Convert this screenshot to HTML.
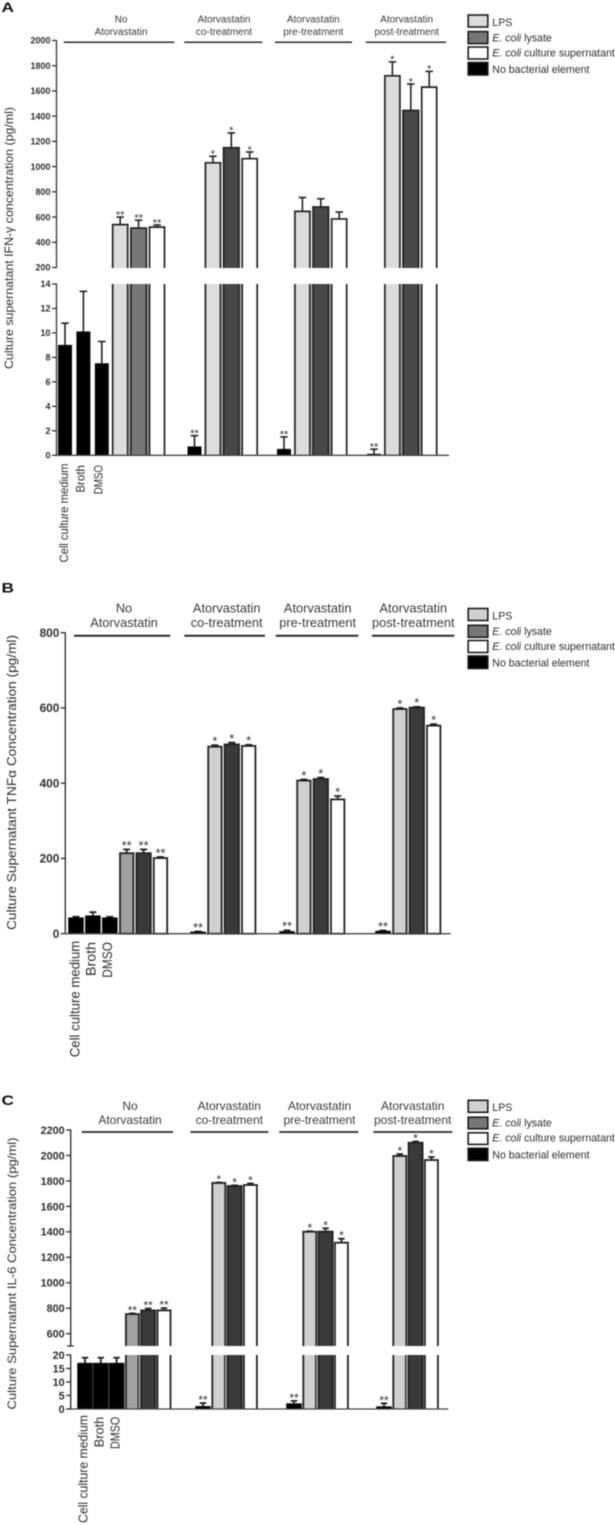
<!DOCTYPE html>
<html lang="en">
<head>
<meta charset="utf-8">
<title>Cytokine concentrations with atorvastatin treatment</title>
<style>
html,body{margin:0;padding:0;background:#fff;width:615px;height:1525px;overflow:hidden}
#figure{display:block;filter:blur(0.45px)}
text{font-family:"Liberation Sans",sans-serif;fill:#2e2e2e}
</style>
</head>
<body>
<svg id="figure" xmlns="http://www.w3.org/2000/svg" width="615" height="1525" viewBox="0 0 615 1525"></svg>
<script>
// Shared labels
const groupLabels = [['No', 'Atorvastatin'], ['Atorvastatin', 'co-treatment'], ['Atorvastatin', 'pre-treatment'], ['Atorvastatin', 'post-treatment']];
const controlCategories = ['Cell culture medium', 'Broth', 'DMSO'];
const seriesKeys = ['lps', 'lysate', 'supernatant', 'none'];

// Panel A: IFN-gamma
const aUpperTicks = [2000, 1800, 1600, 1400, 1200, 1000, 800, 600, 400, 200];
const aLowerTicks = [14, 12, 10, 8, 6, 4, 2, 0];
const aControlValues = [9.0, 10.1, 7.5];
const aControlErrors = [1.8, 3.3, 1.8];
const aNoneValues = [0.7, 0.5, 0.1];
const aNoneErrors = [0.9, 1.0, 0.4];
const aNoneStars = ['**', '**', '**'];
const aLpsValues = [540, 1030, 645, 1720];
const aLpsErrors = [60, 52, 110, 110];
const aLpsStars = ['**', '*', '', '*'];
const aLysateValues = [512, 1150, 680, 1445];
const aLysateErrors = [63, 117, 65, 210];
const aLysateStars = ['**', '*', '', '*'];
const aSupValues = [520, 1063, 585, 1630];
const aSupErrors = [17, 53, 55, 125];
const aSupStars = ['**', '*', '', '*'];

// Panel B: TNF-alpha
const bTicks = [800, 600, 400, 200, 0];
const bControlValues = [42.5, 47.8, 42.5];
const bControlErrors = [2.5, 9.5, 2.5];
const bNoneValues = [5, 6, 7];
const bNoneErrors = [1, 3, 1.5];
const bNoneStars = ['**', '**', '**'];
const bLpsValues = [214, 497, 407, 597];
const bLpsErrors = [10, 4, 3, 3];
const bLpsStars = ['**', '*', '*', '*'];
const bLysateValues = [214, 503, 411, 601];
const bLysateErrors = [10, 5, 4, 2];
const bLysateStars = ['**', '*', '*', '*'];
const bSupValues = [201, 499, 357, 553];
const bSupErrors = [3, 3, 9, 4];
const bSupStars = ['**', '*', '*', '*'];

// Panel C: IL-6
const cUpperTicks = [2200, 2000, 1800, 1600, 1400, 1200, 1000, 800, 600];
const cLowerTicks = [20, 15, 10, 5, 0];
const cControlValues = [17, 17, 17];
const cControlErrors = [2, 2, 2];
const cNoneValues = [1, 2, 0.9];
const cNoneErrors = [1.2, 1, 1.2];
const cNoneStars = ['**', '**', '**'];
const cLpsValues = [754, 1784, 1401, 1996];
const cLpsErrors = [6, 4, 4, 15];
const cLpsStars = ['**', '*', '*', '*'];
const cLysateValues = [783, 1760, 1402, 2100];
const cLysateErrors = [15, 5, 26, 10];
const cLysateStars = ['**', '*', '*', '*'];
const cSupValues = [783, 1768, 1315, 1964];
const cSupErrors = [18, 12, 31, 24];
const cSupStars = ['**', '*', '*', '*'];

const SVG_NS = 'http://www.w3.org/2000/svg';
const root = document.getElementById('figure');
const INK = '#222';

function make(parent, tag, attrs, content) {
  const el = document.createElementNS(SVG_NS, tag);
  for (const k in attrs) el.setAttribute(k, attrs[k]);
  if (content !== undefined) el.textContent = content;
  parent.appendChild(el);
  return el;
}
function line(parent, x1, y1, x2, y2, w, color) {
  return make(parent, 'line', {x1: x1, y1: y1, x2: x2, y2: y2, stroke: color || INK, 'stroke-width': w});
}
function linear(d0, d1, r0, r1) {
  return function (v) { return r0 + (v - d0) * (r1 - r0) / (d1 - d0); };
}

function buildPanel(cfg, d) {
  const g = make(root, 'g', {});
  
  

  const letter = make(g, 'text', {x: cfg.letterX, y: cfg.letterY, 'font-size': 14, 'font-weight': 'bold', textLength: 12.5, lengthAdjust: 'spacingAndGlyphs', style: 'fill:#111'}, cfg.id.toUpperCase());
  
  

  const upper = linear(cfg.upper.d0, cfg.upper.d1, cfg.upper.r0, cfg.upper.r1);
  const lower = cfg.lower ? linear(cfg.lower.d0, cfg.lower.d1, cfg.lower.r0, cfg.lower.r1) : null;
  const floorY = lower ? lower(0) : upper(0);
  const breakTop = cfg.lower ? cfg.upper.end : null;
  const breakBottom = cfg.lower ? cfg.lower.r0 : null;

  const yOf = function (v, useLower) { return (useLower && lower) ? lower(v) : upper(v); };
  const colors = cfg.colors;

  function drawBar(name, cx, w, value, err, star, fill, useLower, kind) {
    const bar = make(g, 'g', {});
    
    
    const x0 = cx - w / 2;
    const top = yOf(value, useLower);
    const errTop = yOf(value + err, useLower);
    line(bar, cx, errTop, cx, top, cfg.stem);
    line(bar, cx - cfg.cap / 2, errTop, cx + cfg.cap / 2, errTop, cfg.stem);
    const stroke = cfg.border;
    if (useLower || !lower) {
      make(bar, 'rect', {x: x0, y: top, width: w, height: Math.max(floorY - top, 0), fill: fill, stroke: fill === '#000' ? '#111' : INK, 'stroke-width': fill === '#000' ? 0.6 : stroke});
    } else {
      if (kind === 'lysate') {
        make(bar, 'rect', {x: x0 - 3, y: breakBottom, width: w + 6, height: floorY - breakBottom, fill: '#b5b5b5'});
        line(bar, x0 - 3, breakBottom, x0 - 3, floorY, 1.2);
        line(bar, x0 + w + 3, breakBottom, x0 + w + 3, floorY, 1.2);
      }
      make(bar, 'rect', {x: x0, y: top, width: w, height: breakTop - top, fill: fill});
      make(bar, 'rect', {x: x0, y: breakBottom, width: w, height: floorY - breakBottom, fill: fill});
      line(bar, x0 - stroke / 2, top, x0 + w + stroke / 2, top, stroke);
      line(bar, x0, top, x0, breakTop, stroke);
      line(bar, x0 + w, top, x0 + w, breakTop, stroke);
      line(bar, x0, breakBottom, x0, floorY, stroke);
      line(bar, x0 + w, breakBottom, x0 + w, floorY, stroke);
    }
    if (star) {
      const s = make(bar, 'text', {x: cx, y: errTop + cfg.starDy, 'font-size': cfg.starSize, 'text-anchor': 'middle', style: 'fill:#333'}, star);
      
      
    }
  }

  // Treatment-group bars
  const groupCount = groupLabels.length;
  for (let i = 0; i < groupCount; i++) {
    const gx = cfg.groupX[i];
    const offset = i === 0 ? 3 : 1;
    const lpsX = gx + offset * cfg.pitch;
    drawBar('lps-group-' + i, lpsX, cfg.widths.lps, d.lps[i], d.lpsErr[i], d.lpsStars[i], i === 0 ? colors.lpsFirst : colors.lps, false, 'lps');
    drawBar('lysate-group-' + i, lpsX + cfg.pitch, cfg.widths.lysate, d.lysate[i], d.lysateErr[i], d.lysateStars[i], i === 0 ? colors.lysateFirst : colors.lysate, false, 'lysate');
    drawBar('supernatant-group-' + i, lpsX + 2 * cfg.pitch, cfg.widths.sup, d.sup[i], d.supErr[i], d.supStars[i], '#fff', false, 'sup');
  }

  // No-bacterial-element bars
  for (let i = 0; i < controlCategories.length; i++) {
    const cx = cfg.groupX[0] + i * cfg.pitch;
    drawBar('control-' + i, cx, cfg.widths.none, d.control[i], d.controlErr[i], '', '#000', true, 'none');
  }
  for (let i = 0; i < d.none.length; i++) {
    drawBar('no-element-group-' + (i + 1), cfg.groupX[i + 1], cfg.widths.none, d.none[i], d.noneErr[i], d.noneStars[i], '#000', true, 'none');
  }

  // Axes
  const axis = make(g, 'g', {});
  
  
  const ax = cfg.axisX;
  if (lower) {
    line(axis, ax, upper(d.upperTicks[0]) - 0.6, ax, cfg.upper.end, cfg.axisW, '#333');
    line(axis, ax, cfg.lower.r0 - 0.6, ax, floorY, cfg.axisW, '#333');
    if (cfg.upper.cap) line(axis, ax - 3.5, cfg.upper.end, ax + 3, cfg.upper.end, cfg.axisW, '#333');
  } else {
    line(axis, ax, upper(d.upperTicks[0]) - 0.6, ax, floorY, cfg.axisW, '#333');
  }
  function drawTick(v, scale) {
    const y = scale(v);
    const t = line(axis, ax - cfg.tickLen, y, ax, y, cfg.axisW, '#333');
    
    
    const l = make(axis, 'text', {x: ax - cfg.tickLen - 1.5, y: y + cfg.tickSize * 0.36, 'font-size': cfg.tickSize, 'font-weight': 'bold', 'text-anchor': 'end'}, String(v));
    
    
  }
  d.upperTicks.forEach(function (v) { drawTick(v, upper); });
  if (lower) d.lowerTicks.forEach(function (v) { drawTick(v, lower); });

  const base = line(g, ax, floorY, cfg.baseEnd, floorY, 1.3, '#444');
  
  

  // Y title
  const title = make(g, 'text', {transform: 'translate(' + cfg.title.x + ' ' + cfg.title.y + ') rotate(-90)', 'font-size': cfg.title.size, 'text-anchor': 'middle', textLength: cfg.title.len, lengthAdjust: 'spacingAndGlyphs'}, d.title);
  
  

  // Category labels
  controlCategories.forEach(function (c, i) {
    const cat = make(g, 'text', {transform: 'translate(' + cfg.cats.x[i] + ' ' + cfg.cats.y[i] + ') rotate(-90)', 'font-size': cfg.cats.size, 'text-anchor': 'end', textLength: cfg.cats.len[i], lengthAdjust: 'spacingAndGlyphs'}, c);
    
    
  });

  // Group headers
  groupLabels.forEach(function (lines, i) {
    const h = make(g, 'g', {});
    
    
    make(h, 'text', {x: cfg.head.cx[i], y: cfg.head.y1, 'font-size': cfg.head.size, 'text-anchor': 'middle', style: 'fill:#3a3a3a'}, lines[0]);
    make(h, 'text', {x: cfg.head.cx[i], y: cfg.head.y2, 'font-size': cfg.head.size, 'text-anchor': 'middle', style: 'fill:#3a3a3a'}, lines[1]);
    line(h, cfg.head.rx0[i], cfg.head.ry, cfg.head.rx1[i], cfg.head.ry, cfg.head.rw, '#2a2a2a');
  });

  // Legend
  const leg = make(g, 'g', {});
  
  
  seriesKeys.forEach(function (key, i) {
    const e = make(leg, 'g', {});
    
    
    const fill = [colors.lps, '#777', '#fff', '#000'][i];
    make(e, 'rect', {x: 468.2, y: cfg.legend.boxY[i], width: 19.6, height: cfg.legend.boxH[i], fill: fill, stroke: '#1c1c1c', 'stroke-width': 1.6});
    const t = make(e, 'text', {x: 492.3, y: cfg.legend.textY[i], 'font-size': 10.6});
    if (i === 0) t.textContent = 'LPS';
    if (i === 3) t.textContent = 'No bacterial element';
    if (i === 1 || i === 2) {
      make(t, 'tspan', {'font-style': 'italic'}, 'E. coli');
      make(t, 'tspan', {}, i === 1 ? ' lysate' : ' culture supernatant');
    }
  });
}

buildPanel({
  id: 'a', letterX: 1.5, letterY: 12,
  upper: {d0: 2000, d1: 200, r0: 40.5, r1: 267.5, end: 268},
  lower: {d0: 14, d1: 0, r0: 284, r1: 455.3},
  axisX: 56.5, axisW: 1.3, tickLen: 4.5, tickSize: 9, baseEnd: 449,
  groupX: [65, 194.5, 284, 374], pitch: 18.4,
  widths: {none: 13.4, lps: 15, lysate: 15.5, sup: 15},
  colors: {lps: '#dcdcdc', lpsFirst: '#dcdcdc', lysate: '#484848', lysateFirst: '#777'},
  border: 1.7, stem: 1.6, cap: 7.5, starDy: 1.3, starSize: 11,
  title: {x: 13, y: 238, size: 12, len: 262},
  cats: {x: [68, 84.7, 102.3], y: [463.5, 465, 465], size: 11.5, len: [99, 27.7, 29.3]},
  head: {cx: [121, 224, 313.3, 406.7], y1: 22.7, y2: 35, size: 10, rx0: [63.7, 184.3, 275, 365.7], rx1: [174.3, 262.3, 352, 446], ry: 42.3, rw: 1.5},
  legend: {boxY: [15, 31.6, 47, 62.5], boxH: [12, 12, 12, 12.5], textY: [26, 41.5, 56.7, 73]}
}, {
  title: 'Culture supernatant IFN-\u03B3 concentration (pg/ml)',
  upperTicks: aUpperTicks, lowerTicks: aLowerTicks,
  control: aControlValues, controlErr: aControlErrors,
  none: aNoneValues, noneErr: aNoneErrors, noneStars: aNoneStars,
  lps: aLpsValues, lpsErr: aLpsErrors, lpsStars: aLpsStars,
  lysate: aLysateValues, lysateErr: aLysateErrors, lysateStars: aLysateStars,
  sup: aSupValues, supErr: aSupErrors, supStars: aSupStars
});

buildPanel({
  id: 'b', letterX: 1.5, letterY: 592.5,
  upper: {d0: 800, d1: 0, r0: 632.7, r1: 933.7},
  lower: null,
  axisX: 65.3, axisW: 1.4, tickLen: 4.5, tickSize: 11.8, baseEnd: 450.7,
  groupX: [76, 198, 287, 383], pitch: 16.9,
  widths: {none: 15, lps: 13.4, lysate: 14.4, sup: 13.4},
  colors: {lps: '#d0d0d0', lpsFirst: '#a0a0a0', lysate: '#3a3a3a', lysateFirst: '#3a3a3a'},
  border: 1.8, stem: 1.8, cap: 7, starDy: 0.4, starSize: 13,
  title: {x: 16, y: 782.5, size: 12.5, len: 295},
  cats: {x: [79.3, 95.3, 112], y: [940.7, 942, 942], size: 13.5, len: [116.6, 34, 35.7]},
  head: {cx: [124, 226.7, 317.7, 413.3], y1: 612.7, y2: 627, size: 12.8, rx0: [74, 184.3, 275.7, 372], rx1: [170.3, 265, 358.3, 454.3], ry: 635.7, rw: 2},
  legend: {boxY: [608.5, 625.3, 640.5, 656], boxH: [12, 12, 12, 12.5], textY: [619.3, 635, 650, 666.7]}
}, {
  title: 'Culture Supernatant TNF\u03B1 Concentration (pg/ml)',
  upperTicks: bTicks, lowerTicks: [],
  control: bControlValues, controlErr: bControlErrors,
  none: bNoneValues, noneErr: bNoneErrors, noneStars: bNoneStars,
  lps: bLpsValues, lpsErr: bLpsErrors, lpsStars: bLpsStars,
  lysate: bLysateValues, lysateErr: bLysateErrors, lysateStars: bLysateStars,
  sup: bSupValues, supErr: bSupErrors, supStars: bSupStars
});

buildPanel({
  id: 'c', letterX: 1.5, letterY: 1105,
  upper: {d0: 2200, d1: 600, r0: 1130, r1: 1333.7, end: 1346, cap: true},
  lower: {d0: 20, d1: 0, r0: 1355, r1: 1409},
  axisX: 70.7, axisW: 1.4, tickLen: 4.5, tickSize: 10.8, baseEnd: 448.3,
  groupX: [85, 203, 294, 384], pitch: 15.8,
  widths: {none: 15, lps: 13, lysate: 14, sup: 13},
  colors: {lps: '#d0d0d0', lpsFirst: '#a0a0a0', lysate: '#3a3a3a', lysateFirst: '#3a3a3a'},
  border: 1.8, stem: 1.8, cap: 6.5, starDy: 1, starSize: 12,
  title: {x: 16, y: 1273.5, size: 12, len: 272},
  cats: {x: [87.7, 103.3, 119.3], y: [1415, 1416.7, 1416.7], size: 12.8, len: [108, 30.6, 32.3]},
  head: {cx: [130, 229.3, 319.5, 412.7], y1: 1110, y2: 1124, size: 12, rx0: [81.7, 190.3, 279.3, 373.3], rx1: [173, 268.3, 358.3, 452.3], ry: 1132, rw: 1.8},
  legend: {boxY: [1100.3, 1117.2, 1132.8, 1148.3], boxH: [12, 11.6, 11.6, 12.2], textY: [1111, 1126.7, 1141.7, 1158.3]}
}, {
  title: 'Culture Supernatant IL-6 Concentration (pg/ml)',
  upperTicks: cUpperTicks, lowerTicks: cLowerTicks,
  control: cControlValues, controlErr: cControlErrors,
  none: cNoneValues, noneErr: cNoneErrors, noneStars: cNoneStars,
  lps: cLpsValues, lpsErr: cLpsErrors, lpsStars: cLpsStars,
  lysate: cLysateValues, lysateErr: cLysateErrors, lysateStars: cLysateStars,
  sup: cSupValues, supErr: cSupErrors, supStars: cSupStars
});
</script>
</body>
</html>
